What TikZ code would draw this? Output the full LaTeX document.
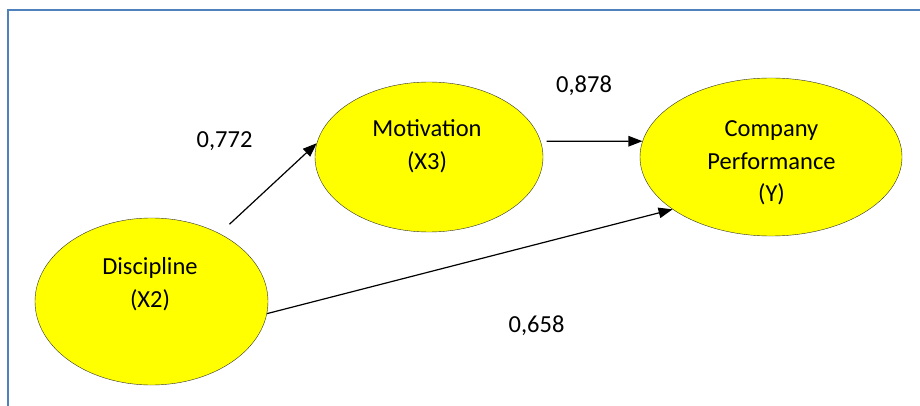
\documentclass[tikz,border=0pt]{standalone}
\usepackage{fontspec}
\setmainfont{Carlito}
\usetikzlibrary{arrows.meta,shapes.geometric}

\definecolor{framebl}{RGB}{79,129,189}
\definecolor{ellyel}{RGB}{255,255,0}
\definecolor{rimgr}{RGB}{50,50,50}

\begin{document}
\begin{tikzpicture}[x=1pt,y=-1pt]

          \useasboundingbox (0,0) rectangle (920,406);
          \draw[framebl, line width=2.5pt] (8,406) -- (8,10) -- (920,10);

          \begin{scope}[every node/.style={ellipse, draw=rimgr, fill=ellyel, inner sep=0pt}]
            \node[minimum width=233pt, minimum height=167pt] (dis)  at (151.5,301.5) {};
            \node[minimum width=228pt, minimum height=150pt] (mot)  at (429,157)     {};
            \node[minimum width=262pt, minimum height=158pt] (comp) at (771,157)     {};
          \end{scope}

          \begin{scope}[every node/.style={align=center, font={\fontsize{24.5}{32.5}\selectfont}}]
            \node (distext)  at (150,284)   {Discipline\\(X2)};
            \node (mottext)  at (427,146)   {Motivation\\(X3)};
            \node (comptext) at (771.5,163) {Company\\Performance\\(Y)};
          \end{scope}

          \begin{scope}[every edge/.style={draw, line width=1.2pt, -{Triangle[length=14pt,width=10.5pt]}}]
            \path (dis.45)  edge[shorten <=13.6pt] (mot.173);
            \path (mot.8)   edge[shorten <=6pt]    (comp.173);
            \path (dis.-6)  edge                   (comp.208);
          \end{scope}

          \begin{scope}[every node/.style={font={\fontsize{24.5}{28}\selectfont}}]
            \node (wdm) at (224.5,141) {0,772};
            \node (wmc) at (584,86)    {0,878};
            \node (wdc) at (536.5,326) {0,658};
          \end{scope}

        \end{tikzpicture}
\end{document}
